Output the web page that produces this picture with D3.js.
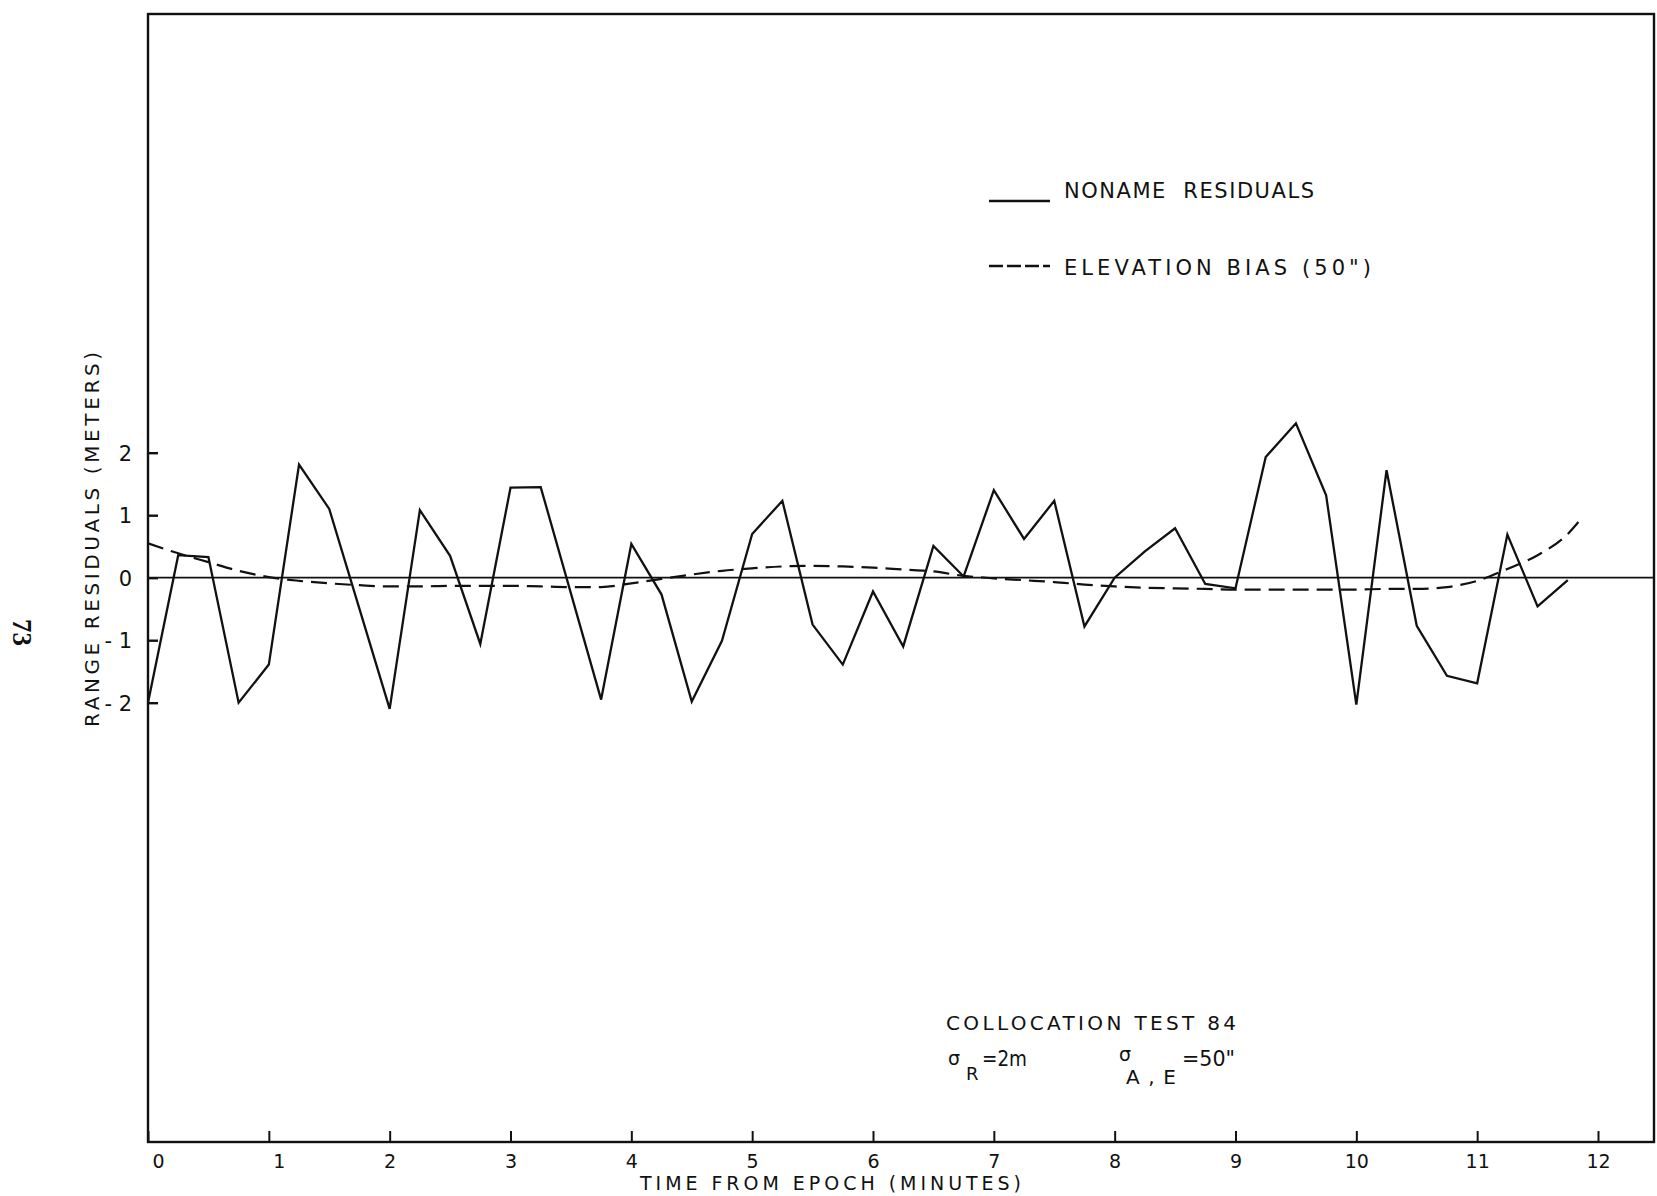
<!DOCTYPE html>
<html>
<head>
<meta charset="utf-8">
<script src="https://cdn.jsdelivr.net/npm/d3@7"></script>
<style>
  html, body { margin: 0; padding: 0; background: #fff; }
  svg { display: block; }
  text { font-family: "DejaVu Sans", "Liberation Sans", sans-serif; fill: #111; }
</style>
</head>
<body>
<svg id="chart" width="1657" height="1196"></svg>
<script>
// ---- data ----
const residualTimes = [0, 0.25, 0.5, 0.75, 1, 1.25, 1.5, 1.75, 2, 2.25, 2.5, 2.75, 3, 3.25, 3.5, 3.75,
  4, 4.25, 4.5, 4.75, 5, 5.25, 5.5, 5.75, 6, 6.25, 6.5, 6.75, 7, 7.25, 7.5, 7.75,
  8, 8.25, 8.5, 8.75, 9, 9.25, 9.5, 9.75, 10, 10.25, 10.5, 10.75, 11, 11.25, 11.5, 11.75];
const residualValues = [-2.0, 0.36, 0.33, -2.0, -1.39, 1.81, 1.10, -0.50, -2.10, 1.08, 0.35, -1.06, 1.44, 1.45, -0.25, -1.95,
  0.54, -0.27, -1.98, -1.01, 0.70, 1.23, -0.75, -1.39, -0.22, -1.10, 0.51, 0.02, 1.40, 0.62, 1.23, -0.78,
  0.0, 0.42, 0.79, -0.10, -0.17, 1.93, 2.47, 1.32, -2.03, 1.72, -0.77, -1.57, -1.69, 0.69, -0.46, -0.04];

const biasTimes = [0, 0.25, 0.5, 0.75, 1, 1.25, 1.5, 1.75, 2, 2.25, 2.5, 2.75, 3, 3.25, 3.5, 3.75,
  4, 4.25, 4.5, 4.75, 5, 5.25, 5.5, 5.75, 6, 6.25, 6.5, 6.75, 7, 7.25, 7.5, 7.75,
  8, 8.25, 8.5, 8.75, 9, 9.25, 9.5, 9.75, 10, 10.25, 10.5, 10.75, 11, 11.25, 11.5, 11.75, 11.85];
const biasValues = [0.55, 0.39, 0.25, 0.11, 0.01, -0.05, -0.09, -0.12, -0.14, -0.14, -0.13, -0.13, -0.13, -0.14, -0.15, -0.15,
  -0.09, -0.02, 0.05, 0.11, 0.15, 0.18, 0.19, 0.18, 0.16, 0.13, 0.10, 0.03, -0.01, -0.04, -0.07, -0.11,
  -0.14, -0.16, -0.17, -0.18, -0.19, -0.19, -0.19, -0.19, -0.19, -0.18, -0.18, -0.15, -0.05, 0.14, 0.36, 0.70, 0.92];

const xTickValues = [0, 1, 2, 3, 4, 5, 6, 7, 8, 9, 10, 11, 12];
const yTickValues = [-2, -1, 0, 1, 2];
const legendLabels = ["NONAME  RESIDUALS", "ELEVATION BIAS (50\")"];
const xTitle = "TIME FROM EPOCH (MINUTES)";
const yTitle = "RANGE RESIDUALS (METERS)";
const noteTitle = "COLLOCATION TEST 84";

// ---- layout ----
const svg = d3.select("#chart");
const frame = { left: 148, right: 1654, top: 14, bottom: 1142 };

const x = d3.scaleLinear().domain([0, 12]).range([148, 1598]);
const y = d3.scaleLinear().domain([-2, 2]).range([702.7, 452.7]);

// frame
svg.append("rect")
  .attr("x", frame.left).attr("y", frame.top)
  .attr("width", frame.right - frame.left).attr("height", frame.bottom - frame.top)
  .attr("fill", "none").attr("stroke", "#111").attr("stroke-width", 2.4);

// zero line
svg.append("line")
  .attr("x1", frame.left).attr("x2", frame.right)
  .attr("y1", y(0)).attr("y2", y(0))
  .attr("stroke", "#111").attr("stroke-width", 1.8);

// x axis
const xAxis = svg.append("g")
  .attr("transform", `translate(0,${frame.bottom})`)
  .call(d3.axisBottom(x).tickValues(xTickValues).tickSizeInner(-11).tickSizeOuter(0).tickFormat(d3.format("d")));
xAxis.select(".domain").remove();
xAxis.selectAll(".tick line").attr("stroke", "#111").attr("stroke-width", 2);
xAxis.selectAll(".tick text")
  .attr("y", 26).attr("dy", null)
  .attr("font-size", 19).attr("font-family", "'DejaVu Sans', sans-serif")
  .attr("fill", "#111")
  .attr("dx", d => d === 0 ? 10 : (d === 1 ? 10 : 0));

// y axis
const yAxis = svg.append("g")
  .attr("transform", `translate(${frame.left},0)`)
  .call(d3.axisLeft(y).tickValues(yTickValues).tickSizeInner(-10).tickSizeOuter(0)
    .tickFormat(d => d < 0 ? "- " + Math.abs(d) : String(d)));
yAxis.select(".domain").remove();
yAxis.selectAll(".tick line").attr("stroke", "#111").attr("stroke-width", 2.4);
yAxis.selectAll(".tick text")
  .attr("x", -16).attr("dy", "0.36em")
  .attr("font-size", 21).attr("font-family", "'DejaVu Sans', sans-serif")
  .attr("fill", "#111");

// axis titles
svg.append("text")
  .attr("x", 640).attr("y", 1190)
  .attr("font-size", 19)
  .attr("textLength", 381).attr("lengthAdjust", "spacing")
  .text(xTitle);

svg.append("text")
  .attr("transform", "translate(99,727) rotate(-90)")
  .attr("font-size", 20)
  .attr("textLength", 375).attr("lengthAdjust", "spacing")
  .text(yTitle);

// page number
svg.append("text")
  .attr("transform", "translate(13,619) rotate(90)")
  .attr("font-size", 27).attr("font-weight", "bold")
  .style("font-family", "'Liberation Serif', serif")
  .text("73");

// series
const residualData = residualTimes.map((t, i) => [t, residualValues[i]]);
const biasData = biasTimes.map((t, i) => [t, biasValues[i]]);

svg.append("path")
  .datum(biasData)
  .attr("fill", "none").attr("stroke", "#111").attr("stroke-width", 2.2)
  .attr("stroke-dasharray", "16,8")
  .attr("d", d3.line().x(d => x(d[0])).y(d => y(d[1])).curve(d3.curveMonotoneX));

svg.append("path")
  .datum(residualData)
  .attr("fill", "none").attr("stroke", "#111").attr("stroke-width", 2.3)
  .attr("stroke-linejoin", "miter")
  .attr("d", d3.line().x(d => x(d[0])).y(d => y(d[1])));

// legend
const legend = svg.append("g");
legend.append("line")
  .attr("x1", 989).attr("x2", 1050).attr("y1", 201).attr("y2", 201)
  .attr("stroke", "#111").attr("stroke-width", 2.4);
legend.append("text")
  .attr("x", 1064).attr("y", 198).attr("font-size", 21)
  .attr("textLength", 250).attr("lengthAdjust", "spacing")
  .attr("xml:space", "preserve").style("white-space", "pre")
  .text(legendLabels[0]);
legend.append("line")
  .attr("x1", 989).attr("x2", 1050).attr("y1", 266).attr("y2", 266)
  .attr("stroke", "#111").attr("stroke-width", 2.4)
  .attr("stroke-dasharray", "14,4");
legend.append("text")
  .attr("x", 1064).attr("y", 275).attr("font-size", 21)
  .attr("textLength", 307).attr("lengthAdjust", "spacing")
  .text(legendLabels[1]);

// annotation
const note = svg.append("g");
note.append("text")
  .attr("x", 946).attr("y", 1030).attr("font-size", 20)
  .attr("textLength", 290).attr("lengthAdjust", "spacing")
  .text(noteTitle);
note.append("text").attr("x", 948).attr("y", 1065).attr("font-size", 19).text("σ");
note.append("text").attr("x", 966).attr("y", 1080).attr("font-size", 18).text("R");
note.append("text").attr("x", 982).attr("y", 1066).attr("font-size", 22)
  .attr("textLength", 45).attr("lengthAdjust", "spacingAndGlyphs").text("=2m");
note.append("text").attr("x", 1119).attr("y", 1061).attr("font-size", 19).text("σ");
note.append("text").attr("x", 1126).attr("y", 1084).attr("font-size", 20)
  .attr("textLength", 50).attr("lengthAdjust", "spacing").text("A,E");
note.append("text").attr("x", 1182).attr("y", 1066).attr("font-size", 22)
  .attr("textLength", 53).attr("lengthAdjust", "spacingAndGlyphs").text("=50\"");
</script>
</body>
</html>
